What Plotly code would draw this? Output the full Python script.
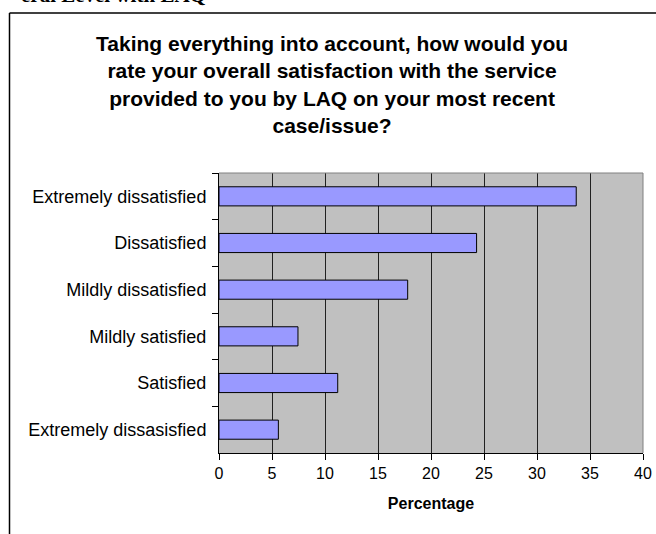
import plotly.graph_objects as go

categories = [
    "Extremely dissatisfied",
    "Dissatisfied",
    "Mildly dissatisfied",
    "Mildly satisfied",
    "Satisfied",
    "Extremely dissasisfied",
]
percentages = [33.7, 24.3, 17.8, 7.45, 11.2, 5.6]
x_ticks = [0, 5, 10, 15, 20, 25, 30, 35, 40]

W, H = 656, 534
L, R, T, B = 219, 13, 173, 81
PW, PH = W - L - R, H - T - B


def px_x(p):
    return (p - L) / PW


def px_y(p):
    return (H - B - p) / PH


fig = go.Figure(
    go.Bar(
        x=percentages,
        y=categories,
        orientation="h",
        width=0.41,
        marker=dict(color="#9999FF", line=dict(color="#000000", width=1)),
    )
)

title_text = (
    "<b>Taking everything into account, how would you<br>"
    "rate your overall satisfaction with the service<br>"
    "provided to you by LAQ on your most recent<br>"
    "case/issue?</b>"
)

fig.update_layout(
    width=W,
    height=H,
    autosize=False,
    margin=dict(l=L, r=R, t=T, b=B, pad=0, autoexpand=False),
    paper_bgcolor="white",
    plot_bgcolor="#C0C0C0",
    showlegend=False,
    font=dict(family="Liberation Sans, Arial, sans-serif", color="black"),
    xaxis=dict(
        range=[0, 40],
        tickvals=x_ticks,
        ticktext=[str(v) for v in x_ticks],
        ticks="outside",
        ticklen=6,
        tickcolor="black",
        tickfont=dict(size=16),
        showgrid=True,
        gridcolor="#202020",
        gridwidth=1,
        showline=True,
        linecolor="black",
        linewidth=1,
        zeroline=False,
        automargin=False,
        title=dict(text="<b>Percentage</b>", font=dict(size=16), standoff=16),
        fixedrange=True,
    ),
    yaxis=dict(
        categoryorder="array",
        categoryarray=categories,
        autorange="reversed",
        tickson="boundaries",
        ticks="outside",
        ticklen=6,
        tickcolor="black",
        tickfont=dict(size=18),
        showgrid=False,
        showline=True,
        linecolor="black",
        linewidth=1,
        ticklabelstandoff=8,
        automargin=False,
        fixedrange=True,
    ),
    annotations=[
        dict(
            text=title_text,
            xref="paper",
            yref="paper",
            x=px_x(332),
            y=px_y(30),
            xanchor="center",
            yanchor="top",
            showarrow=False,
            align="center",
            font=dict(size=21, family="Liberation Sans, Arial, sans-serif"),
        ),
        dict(
            text="<b>eral Level with LAQ</b>",
            xref="paper",
            yref="paper",
            x=px_x(208),
            y=px_y(9),
            xanchor="right",
            yanchor="bottom",
            showarrow=False,
            font=dict(size=21, family="Liberation Serif, Times New Roman, serif"),
        ),
    ],
    shapes=[
        # outer chart frame (left and top edges)
        dict(type="line", xref="paper", yref="paper",
             x0=px_x(9.5), x1=px_x(9.5), y0=px_y(13), y1=px_y(534),
             line=dict(color="black", width=1.5)),
        dict(type="line", xref="paper", yref="paper",
             x0=px_x(9.5), x1=px_x(656), y0=px_y(13), y1=px_y(13),
             line=dict(color="black", width=1.5)),
        # plot area border (top and right)
        dict(type="line", xref="paper", yref="paper",
             x0=0, x1=1, y0=1, y1=1,
             line=dict(color="#808080", width=1)),
        dict(type="line", xref="paper", yref="paper",
             x0=1, x1=1, y0=0, y1=1,
             line=dict(color="#808080", width=1)),
    ],
)

fig.write_html("out.html")
